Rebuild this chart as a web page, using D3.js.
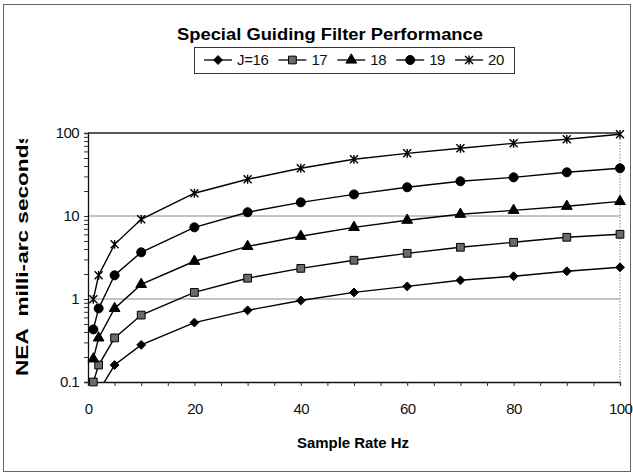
<!DOCTYPE html>
<html>
<head>
<meta charset="utf-8">
<script src="https://cdn.jsdelivr.net/npm/d3@7"></script>
<style>
  html, body { margin: 0; padding: 0; background: #fff; }
  svg { display: block; font-family: "Liberation Sans", Arial, sans-serif; }
</style>
</head>
<body>
<div id="chart"></div>
<script>
'use strict';

// sample rate (Hz) and NEA values per guide star magnitude
const rates = [1, 2, 5, 10, 20, 30, 40, 50, 60, 70, 80, 90, 100];
const nea16 = [0.04, 0.077, 0.16, 0.28, 0.52, 0.73, 0.96, 1.2, 1.42, 1.68, 1.88, 2.16, 2.41];
const nea17 = [0.1, 0.16, 0.34, 0.64, 1.2, 1.78, 2.34, 2.93, 3.55, 4.2, 4.82, 5.54, 6.02];
const nea18 = [0.19, 0.34, 0.77, 1.5, 2.85, 4.3, 5.7, 7.3, 8.9, 10.5, 11.7, 13.1, 15.0];
const nea19 = [0.43, 0.77, 1.93, 3.65, 7.3, 11.1, 14.6, 18.2, 22.2, 26.2, 29.2, 33.6, 37.6];
const nea20 = [0.99, 1.93, 4.56, 9.12, 18.8, 27.7, 37.6, 48.2, 56.9, 65.4, 75.1, 84, 96.5];
const seriesLabels = ['J=16', '17', '18', '19', '20'];
const xTickLabels = [0, 20, 40, 60, 80, 100];
const yTickLabels = [0.1, 1, 10, 100];

const width = 633, height = 475;
const plot = { left: 88, right: 620, top: 133, bottom: 382 };

// excel style markers: square diamond, and an x with a vertical bar through it
const symbolDiamondEven = {
    draw(context, size) {
        let r = Math.sqrt(size) / 2 * 1.25;
        context.moveTo(0, -r);
        context.lineTo(r, 0);
        context.lineTo(0, r);
        context.lineTo(-r, 0);
        context.closePath();
    }
};

const symbolStar = {
    draw(context, size) {
        let r = Math.sqrt(size) / 2;
        context.moveTo(-r, -r); context.lineTo(r, r);
        context.moveTo(r, -r); context.lineTo(-r, r);
        context.moveTo(0, -r * 1.1); context.lineTo(0, r * 1.1);
    }
};

const series = [
    { label: seriesLabels[0], values: nea16, type: symbolDiamondEven, size: 50, fill: '#000' },
    { label: seriesLabels[1], values: nea17, type: d3.symbolSquare, size: 60, fill: '#6a6a6a' },
    { label: seriesLabels[2], values: nea18, type: d3.symbolTriangle, size: 50, fill: '#000' },
    { label: seriesLabels[3], values: nea19, type: d3.symbolCircle, size: 64, fill: '#000' },
    { label: seriesLabels[4], values: nea20, type: symbolStar, size: 64, fill: 'none' }
];

const svg = d3.select('#chart').append('svg')
    .attr('width', width)
    .attr('height', height);

// outer chart frame
svg.append('rect')
    .attr('x', 3.5).attr('y', 4.5)
    .attr('width', 627).attr('height', 467)
    .attr('fill', 'none')
    .attr('stroke', '#666')
    .attr('stroke-width', 1);

const scaleX = d3.scaleLinear().domain([0, 100]).range([plot.left, plot.right]);
const scaleY = d3.scaleLog().domain([0.1, 100]).range([plot.bottom, plot.top]);

// title
svg.append('text')
    .attr('x', 330).attr('y', 40)
    .attr('text-anchor', 'middle')
    .attr('font-size', 16).attr('font-weight', 'bold')
    .attr('textLength', 306).attr('lengthAdjust', 'spacingAndGlyphs')
    .text('Special Guiding Filter Performance');

// gridlines
svg.append('g').selectAll('line')
    .data(yTickLabels.filter(d => d > 0.1))
    .join('line')
    .attr('x1', plot.left).attr('x2', plot.right)
    .attr('y1', d => scaleY(d)).attr('y2', d => scaleY(d))
    .attr('stroke', d => d === 100 ? '#222' : '#888')
    .attr('stroke-width', d => d === 100 ? 1.3 : 1);

// dotted right border of plot area
svg.append('line')
    .attr('x1', plot.right).attr('x2', plot.right)
    .attr('y1', plot.top).attr('y2', plot.bottom)
    .attr('stroke', '#888')
    .attr('stroke-dasharray', '1.5,1.5');

// axes
let minorY = [];
[0.1, 1, 10].forEach(dec => d3.range(1, 10).forEach(m => minorY.push(dec * m)));
minorY.push(100);

let yAxis = d3.axisLeft(scaleY)
    .tickValues(minorY)
    .tickFormat(d => yTickLabels.includes(+d.toPrecision(3)) ? d3.format('~g')(d) : '')
    .tickSize(4)
    .tickPadding(5);

let axisYGroup = svg.append('g')
    .attr('transform', `translate(${plot.left}, 0)`)
    .call(yAxis);

let xAxis = d3.axisBottom(scaleX)
    .tickValues(d3.range(0, 101, 5))
    .tickFormat(d => xTickLabels.includes(d) ? d : '')
    .tickSize(4)
    .tickPadding(17);

let axisXGroup = svg.append('g')
    .attr('transform', `translate(0, ${plot.bottom})`)
    .call(xAxis);

[axisXGroup, axisYGroup].forEach(g => {
    g.select('.domain').attr('stroke', '#111').attr('stroke-width', 1.3);
    g.selectAll('.tick line').attr('stroke', '#333');
    g.selectAll('.tick text')
        .attr('fill', '#111')
        .attr('font-size', 15)
        .attr('letter-spacing', -0.6)
        .attr('font-family', '"Liberation Sans", Arial, sans-serif');
});

// axis titles
svg.append('text')
    .attr('x', 353).attr('y', 448)
    .attr('text-anchor', 'middle')
    .attr('font-size', 14).attr('font-weight', 'bold')
    .attr('textLength', 112).attr('lengthAdjust', 'spacingAndGlyphs')
    .text('Sample Rate  Hz');

svg.append('clipPath').attr('id', 'ytitle-clip')
    .append('rect').attr('x', 0).attr('y', 139).attr('width', 80).attr('height', 300);

svg.append('g')
    .attr('clip-path', 'url(#ytitle-clip)')
    .append('text')
    .attr('transform', 'translate(28, 376) rotate(-90)')
    .attr('font-size', 16).attr('font-weight', 'bold')
    .attr('textLength', 244).attr('lengthAdjust', 'spacingAndGlyphs')
    .attr('xml:space', 'preserve')
    .text('NEA  milli-arc seconds');

// series lines, clipped to the plot area
svg.append('clipPath').attr('id', 'plot-clip')
    .append('rect')
    .attr('x', plot.left).attr('y', plot.top)
    .attr('width', plot.right - plot.left + 6)
    .attr('height', plot.bottom - plot.top);

let line = d3.line()
    .x((d, i) => scaleX(rates[i]))
    .y(d => scaleY(d));

let marks = svg.append('g');

series.forEach(s => {
    marks.append('path')
        .attr('clip-path', 'url(#plot-clip)')
        .attr('d', line(s.values))
        .attr('fill', 'none')
        .attr('stroke', '#000')
        .attr('stroke-width', 1.4);

    marks.append('g').selectAll('path')
        .data(s.values.map((v, i) => ({ x: rates[i], v })).filter(d => d.v >= 0.1))
        .join('path')
        .attr('transform', d => `translate(${scaleX(d.x)}, ${scaleY(d.v)})`)
        .attr('d', d3.symbol().type(s.type).size(s.size))
        .attr('fill', s.fill)
        .attr('stroke', '#000')
        .attr('stroke-width', s.type === symbolStar ? 1.4 : 1);
});

// legend
let legend = { x: 194, y: 47, w: 320, h: 26 };
let legendGroup = svg.append('g');

legendGroup.append('rect')
    .attr('x', legend.x + 0.5).attr('y', legend.y + 0.5)
    .attr('width', legend.w).attr('height', legend.h)
    .attr('fill', '#fff')
    .attr('stroke', '#333');

let symLen = 28, gapText = 5, gapItem = 10;
let items = series.map(s => {
    let t = legendGroup.append('text')
        .attr('font-size', 15)
        .attr('letter-spacing', -0.4)
        .attr('fill', '#111')
        .text(s.label);
    return { s, t, w: t.node().getComputedTextLength() };
});

let total = d3.sum(items, d => symLen + gapText + d.w) + gapItem * (items.length - 1);
let cursor = legend.x + (legend.w - total) / 2;
let midY = legend.y + legend.h / 2;

items.forEach(d => {
    legendGroup.append('line')
        .attr('x1', cursor).attr('x2', cursor + symLen)
        .attr('y1', midY).attr('y2', midY)
        .attr('stroke', '#000').attr('stroke-width', 1.3);
    legendGroup.append('path')
        .attr('transform', `translate(${cursor + symLen / 2}, ${midY})`)
        .attr('d', d3.symbol().type(d.s.type).size(d.s.size))
        .attr('fill', d.s.fill)
        .attr('stroke', '#000')
        .attr('stroke-width', d.s.type === symbolStar ? 1.4 : 1);
    d.t.attr('x', cursor + symLen + gapText)
        .attr('y', midY)
        .attr('dy', '0.35em');
    cursor += symLen + gapText + d.w + gapItem;
});
</script>
</body>
</html>
